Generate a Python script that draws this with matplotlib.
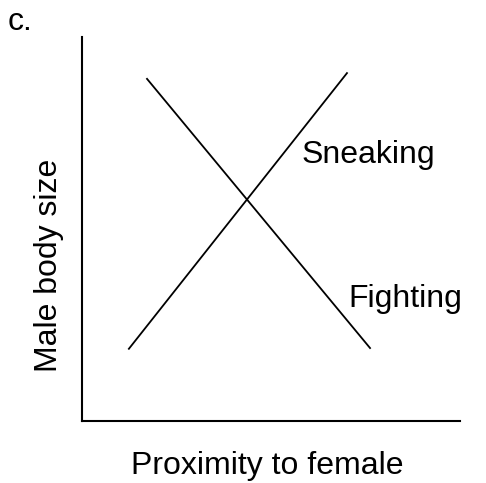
import matplotlib
matplotlib.use('Agg')
import matplotlib.pyplot as plt

plt.rcParams['font.family'] = ['Liberation Sans', 'DejaVu Sans']

# endpoints of the two conceptual strategy lines (proximity, body size)
sneak_x = [0.124, 0.701]
sneak_y = [0.188, 0.906]
fight_x = [0.172, 0.762]
fight_y = [0.891, 0.190]

W, H = 486, 483
fs = 23

fig = plt.figure(figsize=(W / 100, H / 100), dpi=100)
ax = fig.add_axes([82 / W, 62 / H, 378 / W, 384 / H])
ax.plot(sneak_x, sneak_y, color='black', lw=1.3)
ax.plot(fight_x, fight_y, color='black', lw=1.3)
ax.set_xlim(0, 1)
ax.set_ylim(0, 1)

for side in ['top', 'right']:
    ax.spines[side].set_visible(False)
for side in ['left', 'bottom']:
    ax.spines[side].set_linewidth(1.5)
ax.set_xticks([])
ax.set_yticks([])

ax.text(0.582, 0.672, 'Sneaking', fontsize=fs, va='baseline', ha='left')
ax.text(0.704, 0.297, 'Fighting', fontsize=fs, va='baseline', ha='left')

# axis titles and panel letter placed in figure pixels
fig.text(267.5 / W, 1 - 474 / H, 'Proximity to female', fontsize=fs,
         ha='center', va='baseline')
fig.text(49 / W, 1 - 265 / H, 'Male body size', fontsize=fs,
         ha='center', va='center', rotation=90)
fig.text(8 / W, 1 - 30 / H, 'c.', fontsize=fs, ha='left', va='baseline')

fig.savefig('out.png', dpi=100)
